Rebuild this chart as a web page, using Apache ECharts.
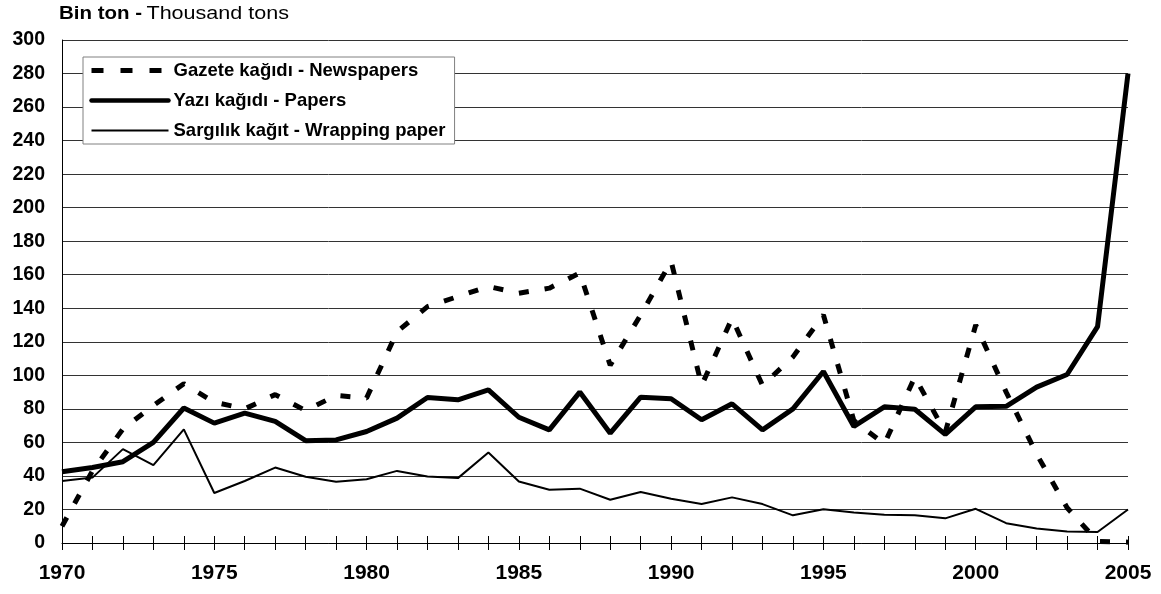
<!DOCTYPE html>
<html>
<head>
<meta charset="utf-8">
<script src="https://cdn.jsdelivr.net/npm/echarts@6/dist/echarts.min.js"></script>
<style>
html,body{margin:0;padding:0;background:#fff;}
#chart{width:1161px;height:594px;}
</style>
</head>
<body>
<div id="chart"></div>
<script>
const years = ['1970','1971','1972','1973','1974','1975','1976','1977','1978','1979','1980','1981','1982','1983','1984','1985','1986','1987','1988','1989','1990','1991','1992','1993','1994','1995','1996','1997','1998','1999','2000','2001','2002','2003','2004','2005'];
const newspapers = [10,43,68,82,95,84,80,88.5,79,88,86.5,126,141,147,153,149,152,161,106,136,168,94,134,94,111,136,73,59,99,66,130,90,53,21,1,0.5];
const papers = [42.5,45,48.5,60,80.5,71.5,77.5,72.5,61,61.5,66.5,74.5,86.8,85.4,91.3,75,67.5,90,65.5,87,86,73.5,83,67.5,80,102.3,69.5,81.2,79.8,64.8,81.2,81.5,93,100.5,129,280];
const wrapping = [37,39,56,46.5,67.8,29.8,37,45,39.5,36.5,38,43,39.7,38.7,54,36.7,31.8,32.4,25.8,30.4,26.4,23.2,27.2,23.2,16.5,20.1,18.2,16.8,16.5,14.7,20.4,11.8,8.6,6.8,6.6,20];
const seriesNames = ['Gazete kağıdı - Newspapers','Yazı kağıdı - Papers','Sargılık kağıt - Wrapping paper'];
const xLabels = ['1970','1975','1980','1985','1990','1995','2000','2005'];
const unitBold = 'Bin ton -';
const unitRegular = 'Thousand tons';

const FONT = '"Liberation Sans", Arial, sans-serif';
const chart = echarts.init(document.getElementById('chart'), null, {renderer:'canvas'});
chart.setOption({
  animation:false,
  backgroundColor:'#fff',
  graphic:[{
    type:'text', x:59, y:13.8, scaleX:1.17, z:10,
    style:{text:unitBold, font:'bold 17.5px ' + FONT, fill:'#000', verticalAlign:'middle', align:'left'}
  },{
    type:'text', x:146.5, y:13.8, scaleX:1.23, z:10,
    style:{text:unitRegular, font:'normal 17.5px ' + FONT, fill:'#000', verticalAlign:'middle', align:'left'}
  }],
  legend:{
    left:83, top:57,
    orient:'vertical',
    backgroundColor:'#fff',
    borderColor:'#808080', borderWidth:1, borderRadius:0,
    padding:[4,9,4,6],
    itemWidth:77, itemHeight:20, itemGap:11,
    itemStyle:{color:'rgba(0,0,0,0)',borderWidth:0},
    textStyle:{fontFamily:FONT,fontWeight:'bold',fontSize:18.5,color:'#000'},
    data:[
      {name:seriesNames[0],lineStyle:{width:5,type:[12,17],cap:'butt'}},
      {name:seriesNames[1],lineStyle:{width:4.5,cap:'round'}},
      {name:seriesNames[2],lineStyle:{width:2}}
    ]
  },
  grid:{left:62,right:33,top:40,bottom:51,containLabel:false},
  xAxis:[{
    type:'category', data:years, boundaryGap:false,
    axisLine:{show:true,lineStyle:{color:'#000',width:1}},
    axisTick:{show:true,interval:0,length:7,inside:false,lineStyle:{color:'#000'}},
    axisLabel:{
      interval:0, margin:20,
      fontFamily:FONT,fontWeight:'bold',fontSize:21,color:'#000',
      formatter:function(v){return xLabels.indexOf(v)>=0 ? v : '';}
    },
    splitLine:{show:false}
  },{
    type:'category', data:years, boundaryGap:false, position:'bottom',
    axisLine:{show:false},
    axisTick:{show:true,interval:0,length:7,inside:true,lineStyle:{color:'#000'}},
    axisLabel:{show:false},
    splitLine:{show:false}
  }],
  yAxis:{
    type:'value', min:0, max:300, interval:20,
    axisLine:{show:true,lineStyle:{color:'#000',width:1}},
    axisTick:{show:false},
    axisLabel:{margin:17,fontFamily:FONT,fontWeight:'bold',fontSize:19.5,color:'#000'},
    splitLine:{show:true,lineStyle:{color:'#333',width:1}}
  },
  series:[
    {name:seriesNames[0],type:'line',data:newspapers,symbol:'none',xAxisIndex:0,
     lineStyle:{color:'#000',width:5,type:[10,16],cap:'butt'},itemStyle:{color:'#000'},z:2},
    {name:seriesNames[1],type:'line',data:papers,symbol:'none',xAxisIndex:0,
     lineStyle:{color:'#000',width:5},itemStyle:{color:'#000'},z:3},
    {name:seriesNames[2],type:'line',data:wrapping,symbol:'none',xAxisIndex:0,
     lineStyle:{color:'#000',width:2},itemStyle:{color:'#000'},z:4}
  ]
});
</script>
</body>
</html>
